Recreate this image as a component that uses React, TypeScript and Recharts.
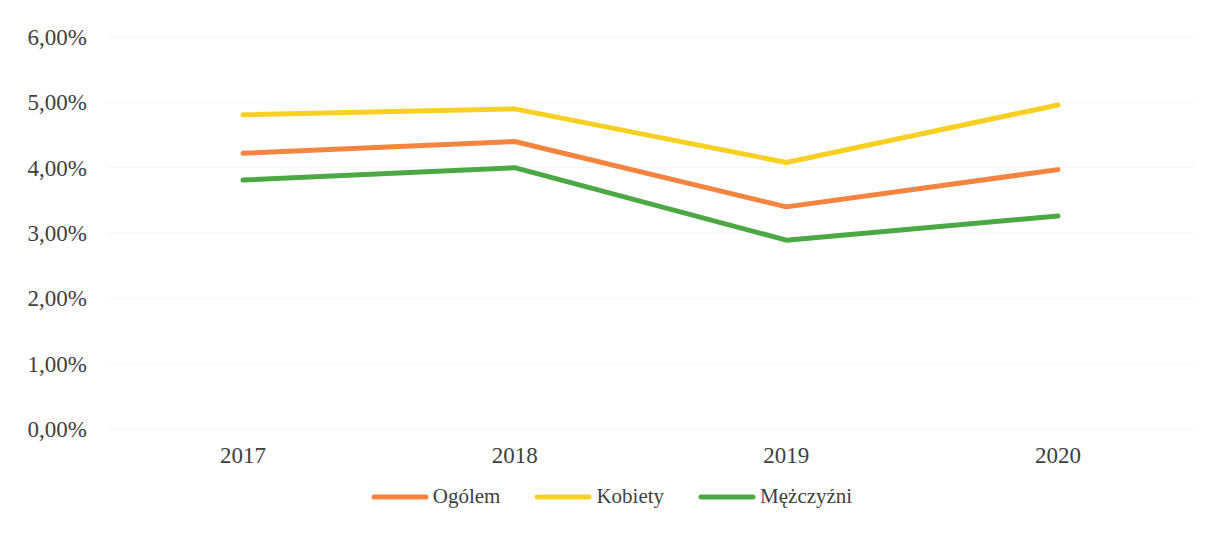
import { LineChart, Line, XAxis, YAxis, CartesianGrid, Legend } from 'recharts';

const years = ['2017', '2018', '2019', '2020'];
const ogolem = [4.22, 4.4, 3.4, 3.97];
const kobiety = [4.81, 4.9, 4.08, 4.96];
const mezczyzni = [3.81, 4.0, 2.89, 3.26];
const yTicks = [0, 1, 2, 3, 4, 5, 6];

const series = [
  { key: 'ogolem', name: 'Ogólem', color: '#f4843f' },
  { key: 'kobiety', name: 'Kobiety', color: '#f8d023' },
  { key: 'mezczyzni', name: 'Mężczyźni', color: '#4ba844' },
];

const data = years.map((year, i) => ({
  year,
  ogolem: ogolem[i],
  kobiety: kobiety[i],
  mezczyzni: mezczyzni[i],
}));

const FONT = '"Liberation Serif", "Times New Roman", serif';

const formatPct = (v: number) => `${v.toFixed(2).replace('.', ',')}%`;

function LineLegend() {
  return (
    <div
      style={{
        display: 'flex',
        justifyContent: 'center',
        alignItems: 'center',
        gap: 34,
        paddingLeft: 10,
        fontFamily: FONT,
        fontSize: 21,
        color: '#404040',
      }}
    >
      {series.map((s) => (
        <div key={s.key} style={{ display: 'flex', alignItems: 'center', gap: 4 }}>
          <svg width={58} height={8}>
            <line x1={3} y1={4} x2={55} y2={4} stroke={s.color} strokeWidth={5} strokeLinecap="round" />
          </svg>
          <span>{s.name}</span>
        </div>
      ))}
    </div>
  );
}

export default function App() {
  return (
    <div style={{ position: 'absolute', top: 0, left: 0, background: '#fff' }}>
      <LineChart
        width={1213}
        height={541}
        data={data}
        margin={{ top: 37, right: 19, bottom: 0, left: 0 }}
      >
        <CartesianGrid vertical={false} stroke="#f5f5f5" />
        <XAxis
          dataKey="year"
          height={112}
          padding={{ left: 136, right: 136 }}
          axisLine={false}
          tickLine={false}
          tickSize={0}
          tickMargin={18}
          tick={{ fill: '#404040', fontSize: 23, fontFamily: FONT }}
        />
        <YAxis
          width={107}
          domain={[0, 6]}
          ticks={yTicks}
          tickFormatter={formatPct}
          axisLine={false}
          tickLine={false}
          tickSize={0}
          tickMargin={20}
          tick={{ fill: '#404040', fontSize: 23, fontFamily: FONT }}
        />
        {series.map((s) => (
          <Line
            key={s.key}
            type="linear"
            dataKey={s.key}
            name={s.name}
            stroke={s.color}
            strokeWidth={5}
            strokeLinecap="round"
            strokeLinejoin="round"
            dot={false}
            activeDot={false}
            isAnimationActive={false}
          />
        ))}
        <Legend
          verticalAlign="middle"
          layout="horizontal"
          content={<LineLegend />}
          wrapperStyle={{ top: 484, left: 0, width: 1213 }}
        />
      </LineChart>
    </div>
  );
}
